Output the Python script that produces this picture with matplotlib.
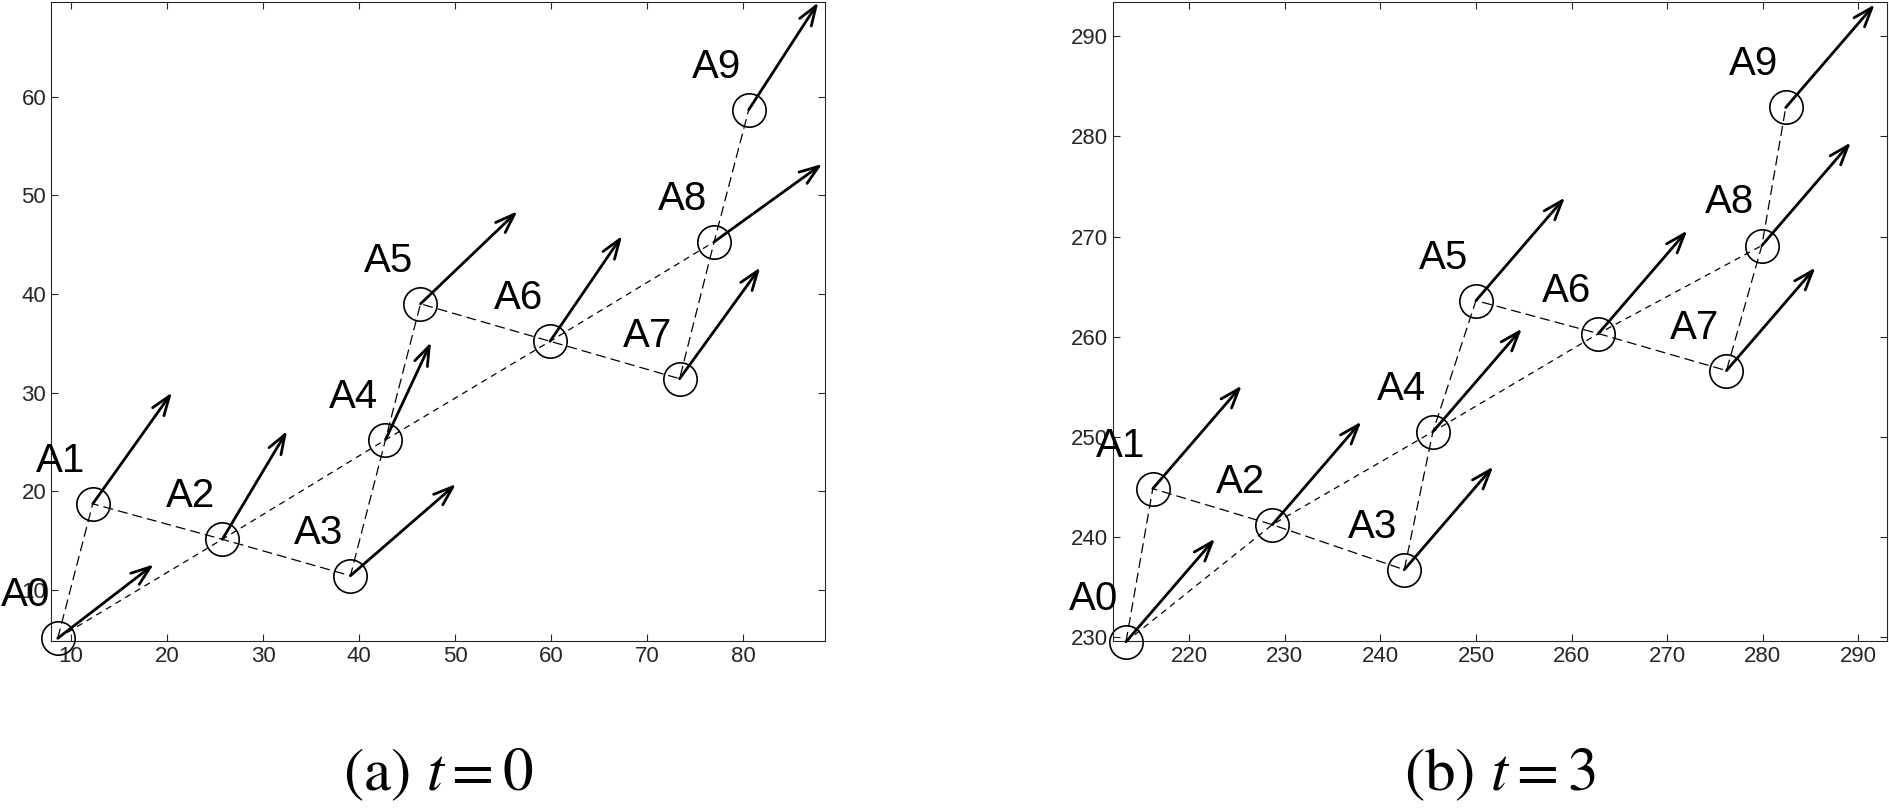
import matplotlib
matplotlib.use("Agg")
import matplotlib.pyplot as plt

labels = ["A0","A1","A2","A3","A4","A5","A6","A7","A8","A9"]
# t = 0
x0 = [8.6, 12.25, 25.75, 39.1, 42.75, 46.4, 59.9, 73.4, 77.0, 80.6]
y0 = [5.05, 18.7, 15.1, 11.4, 25.2, 39.0, 35.2, 31.4, 45.3, 58.7]
u0 = [10.0, 8.25, 6.75, 11.0, 4.75, 10.1, 7.5, 8.4, 11.25, 7.25]
v0 = [7.5, 11.3, 11.0, 9.3, 9.9, 9.4, 10.7, 11.3, 7.9, 10.9]
# t = 3
x3 = [213.4, 216.2, 228.7, 242.5, 245.5, 250.0, 262.8, 276.2, 279.9, 282.4]
y3 = [229.5, 244.8, 241.2, 236.7, 250.5, 263.6, 260.3, 256.6, 269.1, 282.9]
u3 = [9.3]*10
v3 = [10.3]*10

plt.rcParams['font.family'] = ['Liberation Sans', 'DejaVu Sans']
plt.rcParams['mathtext.fontset'] = 'stix'
fig = plt.figure(figsize=(18.89, 8.08), dpi=100)
ax1 = fig.add_axes([0.027, 0.207, 0.410, 0.79])
ax2 = fig.add_axes([0.589, 0.207, 0.410, 0.79])

def draw(ax, x, y, u, v, xlim, ylim, xt, yt, cap):
    ax.plot(x, y, linestyle=(0, (8, 4)), color='k', lw=0.9, clip_on=False)
    ax.plot(x[0::2], y[0::2], linestyle=(0, (5, 4)), color='k', lw=0.9, clip_on=False)
    ax.plot(x, y, 'o', mfc='none', mec='k', ms=24, mew=1.2, clip_on=False)
    for xi, yi, ui, vi, lab in zip(x, y, u, v, labels):
        ax.annotate('', xy=(xi+ui, yi+vi), xytext=(xi, yi),
                    arrowprops=dict(arrowstyle='->,head_length=1.4,head_width=0.5',
                                    lw=2, color='k', shrinkA=0, shrinkB=0),
                    annotation_clip=False)
        ax.annotate(lab, xy=(xi, yi), xytext=(-23, 31), textcoords='offset points',
                    ha='center', va='center', fontsize=29, annotation_clip=False)
    ax.set_xlim(*xlim); ax.set_ylim(*ylim)
    ax.set_xticks(xt); ax.set_yticks(yt)
    ax.tick_params(direction='in', top=True, right=True, labelsize=16, length=5,
                   colors='#262626')
    for s in ax.spines.values():
        s.set_color('#262626'); s.set_linewidth(0.8)
    ax.text(0.5, -0.21, cap, transform=ax.transAxes, ha='center', va='center',
            fontsize=44, family='STIXGeneral')

draw(ax1, x0, y0, u0, v0, (7.9, 88.6), (4.8, 69.6), range(10, 90, 10), range(10, 70, 10), "(a) $t=0$")
draw(ax2, x3, y3, u3, v3, (212, 293), (229.6, 293.4), range(220, 300, 10), range(230, 300, 10), "(b) $t=3$")
fig.savefig("out.png", dpi=100)
